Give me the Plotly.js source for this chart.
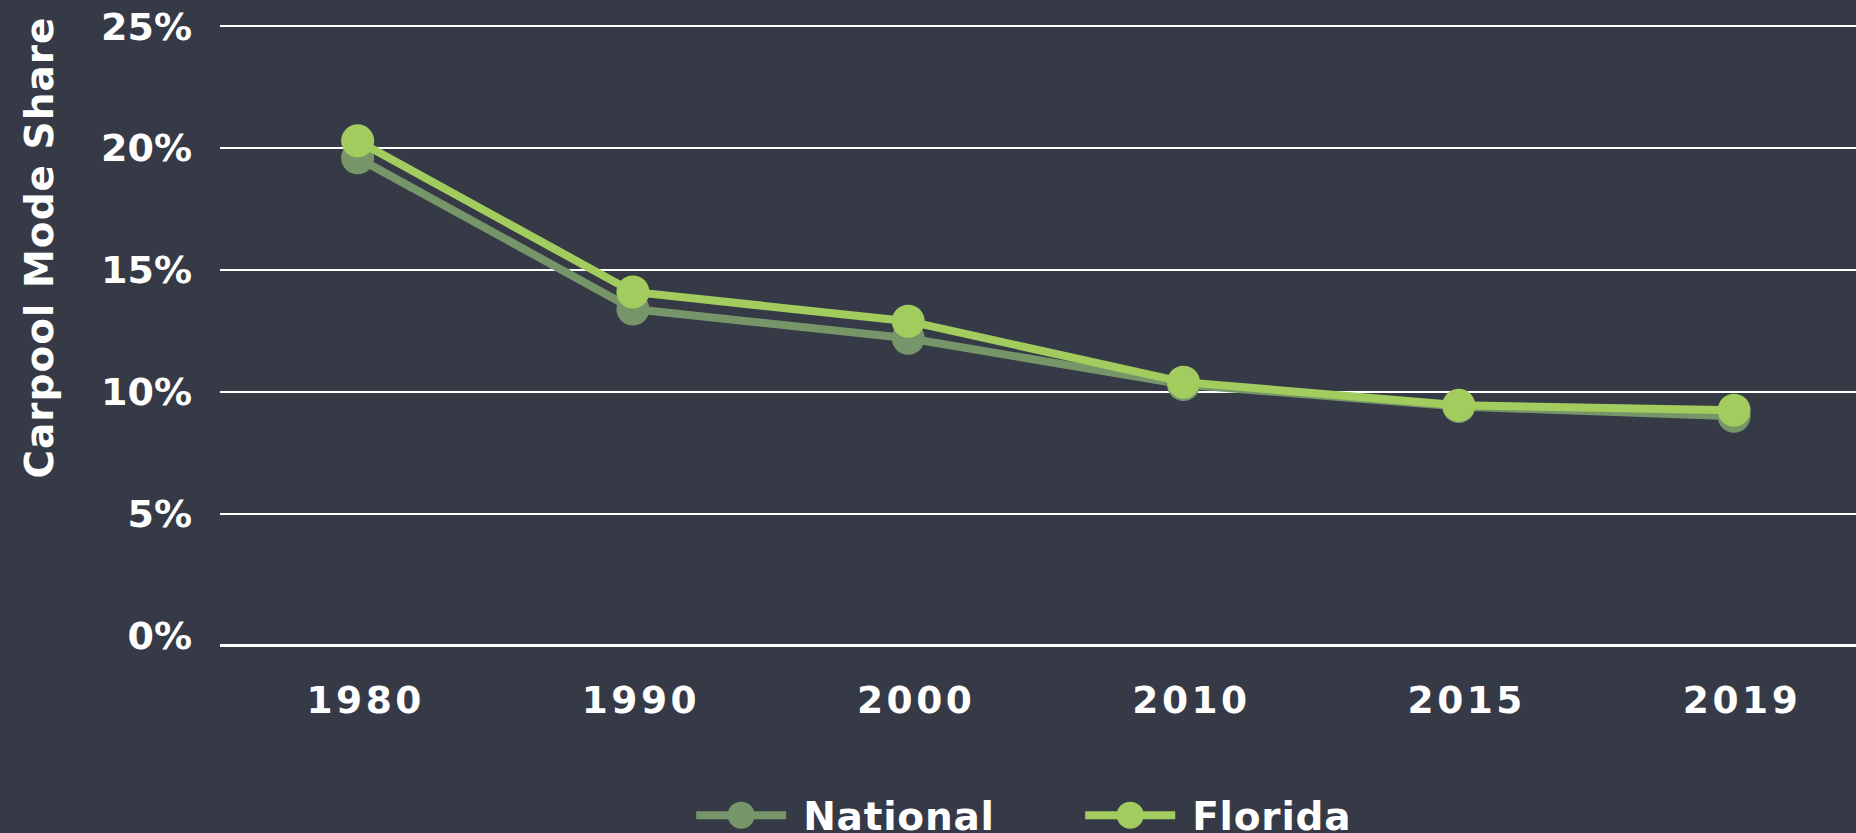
<!DOCTYPE html>
<html>
<head>
<meta charset="utf-8">
<script src="https://cdn.plot.ly/plotly-3.0.1.min.js"></script>
<style>
  html, body { margin: 0; padding: 0; background: #363a47; }
  #chart { width: 1856px; height: 833px; }
  .xtick text { letter-spacing: 3.5px; }
  .xtick { transform: translate(8px, 0); }
  .legendtext { letter-spacing: 0.8px; transform: translate(12px, 0); }
  .annotation-text { letter-spacing: 1px; }
</style>
</head>
<body>
<div id="chart"></div>
<script>
// Data (percent)
const years = ["1980", "1990", "2000", "2010", "2015", "2019"];
const national = [19.6, 13.4, 12.2, 10.3, 9.4, 9.0];
const florida = [20.3, 14.1, 12.9, 10.4, 9.45, 9.25];
const yTickVals = [0, 5, 10, 15, 20, 25];
const yTickText = ["0%", "5%", "10%", "15%", "20%", "25%"];
const yGridVals = [5, 10, 15, 20, 25];
const yTitle = "Carpool Mode Share";

const FONT = '"DejaVu Sans", Verdana, sans-serif';
const BG = '#363a47';
const C_NAT = '#76966a';
const C_FL = '#a2cd5e';
const Y_RANGE = [-0.34, 25.05];

const traces = [
  {
    x: years, y: national, name: 'National', type: 'scatter', mode: 'lines+markers',
    xaxis: 'x', yaxis: 'y',
    line: { color: C_NAT, width: 8 },
    marker: { color: C_NAT, size: 33 }
  },
  {
    x: years, y: florida, name: 'Florida', type: 'scatter', mode: 'lines+markers',
    xaxis: 'x', yaxis: 'y2',
    line: { color: C_FL, width: 8 },
    marker: { color: C_FL, size: 33 }
  }
];

const layout = {
  width: 1856, height: 833,
  paper_bgcolor: BG, plot_bgcolor: BG,
  margin: { l: 220, r: 0, t: 25, b: 189, autoexpand: false },
  font: { family: FONT, color: '#ffffff', size: 38, weight: 'bold' },
  xaxis: {
    type: 'category',
    range: [-0.5, 5.443],
    showgrid: false, zeroline: false,
    showline: true, linecolor: '#ffffff', linewidth: 2.5,
    ticks: '',
    ticklabelstandoff: 21,
    tickfont: { family: FONT, size: 37.5, color: '#ffffff', weight: 'bold' }
  },
  yaxis: {
    range: Y_RANGE,
    tickvals: yTickVals, ticktext: yTickText,
    showgrid: false,
    zeroline: false, showline: false, ticks: '',
    ticklabelstandoff: 27,
    tickfont: { family: FONT, size: 38, color: '#ffffff', weight: 'bold' }
  },
  yaxis2: {
    overlaying: 'y', side: 'left',
    range: Y_RANGE,
    tickvals: yGridVals,
    showticklabels: false,
    showgrid: true, gridcolor: '#ffffff', gridwidth: 2,
    zeroline: false, showline: false, ticks: ''
  },
  annotations: [{
    text: yTitle, xref: 'paper', yref: 'paper',
    x: -0.1106, y: 0.6405, xanchor: 'center', yanchor: 'middle',
    textangle: -90, showarrow: false,
    font: { family: FONT, size: 39, color: '#ffffff', weight: 'bold' }
  }],
  showlegend: true,
  legend: {
    orientation: 'h',
    xref: 'paper', yref: 'paper',
    x: 0.288, y: -0.225, xanchor: 'left', yanchor: 'top',
    bgcolor: 'rgba(0,0,0,0)',
    itemwidth: 90,
    entrywidth: 284,
    traceorder: 'normal',
    font: { family: FONT, size: 39, color: '#ffffff', weight: 'bold' }
  },
  hovermode: false
};

Plotly.newPlot('chart', traces, layout, { staticPlot: true, displayModeBar: false }).then(gd => {
  const r = 13.5;
  gd.querySelectorAll('.legend .legendpoints path.scatterpts').forEach(p => {
    p.setAttribute('d', `M${r},0A${r},${r} 0 1,1 0,-${r}A${r},${r} 0 0,1 ${r},0Z`);
  });
});
</script>
</body>
</html>
